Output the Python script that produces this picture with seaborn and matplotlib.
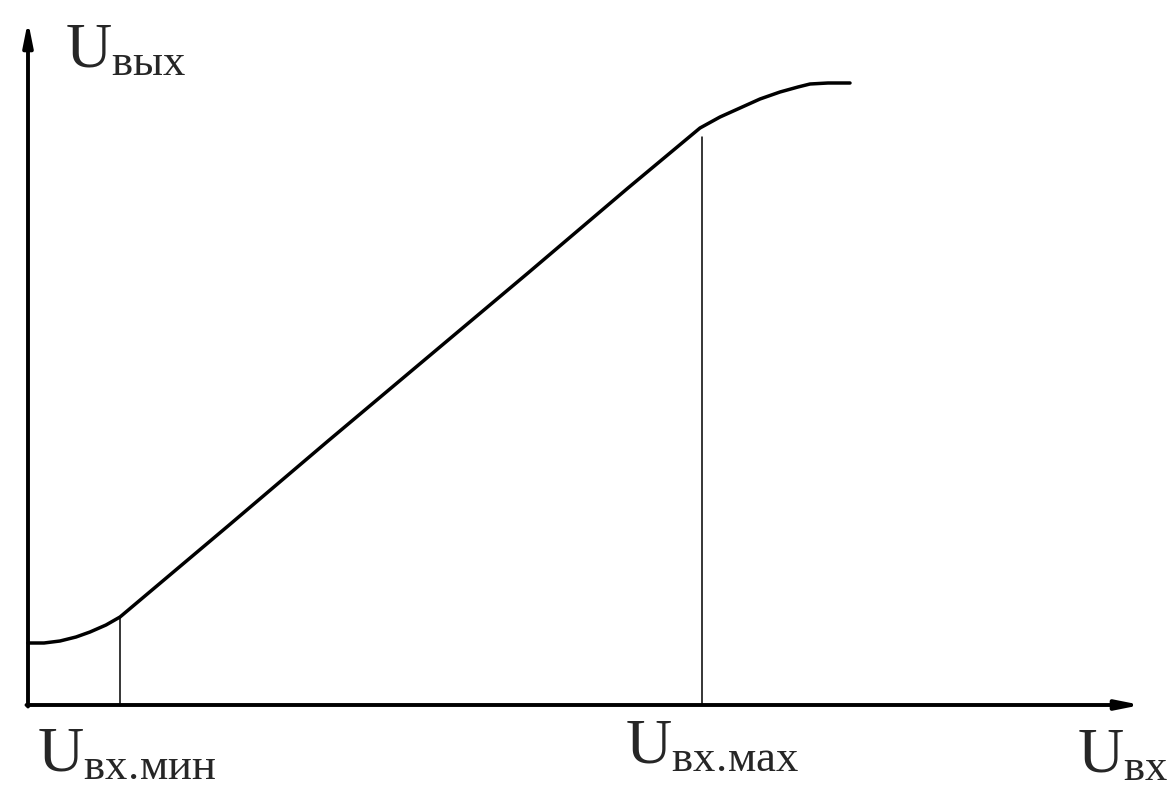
import matplotlib
matplotlib.use("Agg")
import matplotlib.pyplot as plt
import seaborn as sns
import pandas as pd

# transfer characteristic (origin at the axes corner)
u_in = [0, 16, 32, 48, 62, 78, 92, 200, 300, 400, 500, 600, 672, 692, 712, 732, 752, 770, 782, 800, 822]
u_out = [62, 62, 64, 68, 73, 80, 88, 179, 264, 348, 432, 517, 577, 588, 597, 606, 613, 618, 621, 622, 622]

u_min = 92
u_min_top = 88
u_max = 674
u_max_top = 568

df = pd.DataFrame({"u_in": u_in, "u_out": u_out})

sns.set_style("white")
plt.rcParams["mathtext.fontset"] = "custom"
plt.rcParams["mathtext.rm"] = "Liberation Serif"
plt.rcParams["mathtext.it"] = "Liberation Serif"
plt.rcParams["font.family"] = ["Liberation Serif", "DejaVu Serif"]

fig = plt.figure(figsize=(11.73, 7.86), dpi=100)
ax = fig.add_axes([0, 0, 1, 1])
ax.set_xlim(-28, 1145)
ax.set_ylim(-81, 705)
ax.axis("off")

sns.lineplot(data=df, x="u_in", y="u_out", sort=False, color="black", lw=2.5, ax=ax)

ax.plot([u_min, u_min], [0, u_min_top], color="black", lw=1.1)
ax.plot([u_max, u_max], [0, u_max_top], color="black", lw=1.1)

arrow = dict(arrowstyle="-|>,head_length=1.4,head_width=0.28", lw=2.8, color="black",
             shrinkA=0, shrinkB=0)
ax.annotate("", xy=(1113, 0), xytext=(-1.5, 0), arrowprops=arrow)
ax.annotate("", xy=(0, 684), xytext=(0, -1.5), arrowprops=arrow)

fs = 46
ax.text(37, 638, r"$\mathrm{U}_{\mathrm{вых}}$", fontsize=fs, va="baseline")
ax.text(9, -66, r"$\mathrm{U}_{\mathrm{вх.\!мин}}$", fontsize=fs, va="baseline")
ax.text(597, -58, r"$\mathrm{U}_{\mathrm{вх.\!мах}}$", fontsize=fs, va="baseline")
ax.text(1049, -67, r"$\mathrm{U}_{\mathrm{вх}}$", fontsize=fs, va="baseline")

fig.savefig("out.png", dpi=100)
